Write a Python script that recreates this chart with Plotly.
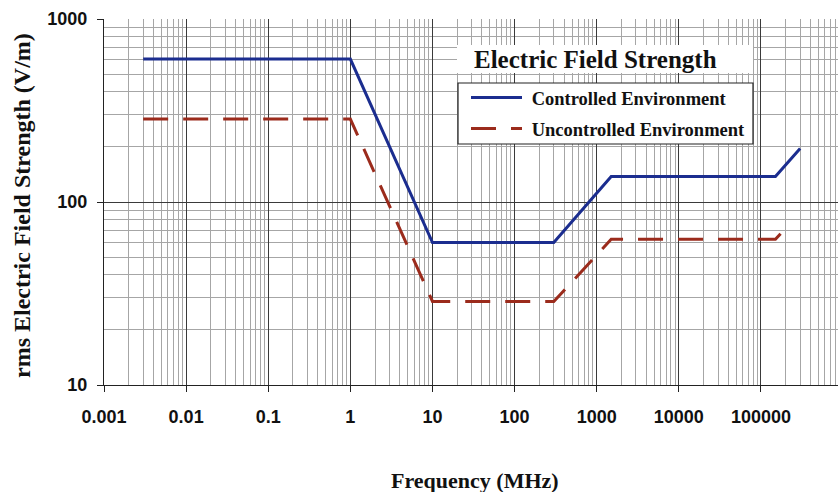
import plotly.graph_objects as go

# Data
freq_controlled = [0.003, 1, 10, 300, 1500, 150000, 300000]
field_controlled = [604, 604, 60, 60, 138, 138, 196]

freq_uncontrolled = [0.003, 1, 10, 300, 1500, 150000, 230000]
field_uncontrolled = [284, 284, 28.6, 28.6, 62.5, 62.5, 77]

x_tickvals = [0.001, 0.01, 0.1, 1, 10, 100, 1000, 10000, 100000]
x_ticktext = ["0.001", "0.01", "0.1", "1", "10", "100", "1000", "10000", "100000"]
y_tickvals = [10, 100, 1000]
y_ticktext = ["10", "100", "1000"]

names = ["Controlled Environment", "Uncontrolled Environment"]
legend_title = "Electric Field Strength"
x_title = "Frequency (MHz)"
y_title = "rms Electric Field Strength (V/m)"

BLUE = "#1b2d8f"
RED = "#9b2b1c"
SERIF = "Liberation Serif, Times New Roman, serif"
SANS = "Liberation Sans, Arial, sans-serif"

# plot area in pixels
L, R, T, B = 104, 838, 19, 385
PW, PH = R - L, B - T


def px(x):
    return (x - L) / PW


def py(y):
    return (B - y) / PH


fig = go.Figure()
fig.add_trace(go.Scatter(x=freq_controlled, y=field_controlled, mode="lines",
                         name="&nbsp;<b>%s</b>" % names[0], legendgroup="a",
                         line=dict(color=BLUE, width=3)))
fig.add_trace(go.Scatter(x=freq_uncontrolled, y=field_uncontrolled, mode="lines",
                         name="&nbsp;<b>%s</b>" % names[1], legendgroup="b",
                         line=dict(color=RED, width=3, dash="25px,15px")))

axis_common = dict(
    type="log", automargin=False,
    showline=True, linecolor="#222", linewidth=1.2,
    ticks="outside", ticklen=6, tickcolor="#222", tickwidth=1,
    showgrid=True, gridcolor="#3a3a3a", gridwidth=1,
    tickfont=dict(family=SANS, size=18, color="#111", weight="bold"),
    zeroline=False,
    minor=dict(dtick="D1", showgrid=True, gridcolor="#a6a6a6", gridwidth=1.2, ticks=""),
)

fig.update_xaxes(**axis_common, range=[-3, 5.938], tickmode="array",
                 tickvals=x_tickvals, ticktext=x_ticktext, ticklabelstandoff=9)
fig.update_yaxes(**axis_common, range=[1, 3], tickmode="array",
                 tickvals=y_tickvals, ticktext=y_ticktext, ticklabelstandoff=6)

fig.update_layout(
    width=838, height=492,
    margin=dict(l=L, r=838 - R, t=T, b=492 - B, autoexpand=False),
    plot_bgcolor="white", paper_bgcolor="white",
    showlegend=True,
    legend=dict(
        x=px(466), y=py(79), xanchor="left", yanchor="top",
        bgcolor="rgba(0,0,0,0)", borderwidth=0,
        font=dict(family=SERIF, size=18.5, color="#111"),
        traceorder="grouped", tracegroupgap=4,
        itemwidth=51,
    ),
    shapes=[
        dict(type="rect", xref="paper", yref="paper",
             x0=px(457), x1=px(753), y0=py(73), y1=py(45),
             fillcolor="white", line=dict(width=0), layer="above"),
        dict(type="rect", xref="paper", yref="paper",
             x0=px(458), x1=px(753), y0=py(144), y1=py(83),
             fillcolor="white", line=dict(width=1.2, color="#222"), layer="above"),
    ],
    annotations=[
        dict(text="<b>%s</b>" % legend_title, xref="paper", yref="paper",
             x=px(472), y=py(59), xanchor="left", yanchor="middle", showarrow=False,
             font=dict(family=SERIF, size=25, color="#111")),
        dict(text="<b>%s</b>" % y_title, xref="paper", yref="paper",
             x=px(22), y=py(206), xanchor="center", yanchor="middle", showarrow=False,
             textangle=-90, font=dict(family=SERIF, size=24, color="#111")),
        dict(text="<b>%s</b>" % x_title, xref="paper", yref="paper",
             x=px(475), y=py(480), xanchor="center", yanchor="middle", showarrow=False,
             font=dict(family=SERIF, size=22, color="#111")),
    ],
)

fig.write_html("out.html", config={"displayModeBar": False},
               post_script="document.body.style.margin='0px';")
